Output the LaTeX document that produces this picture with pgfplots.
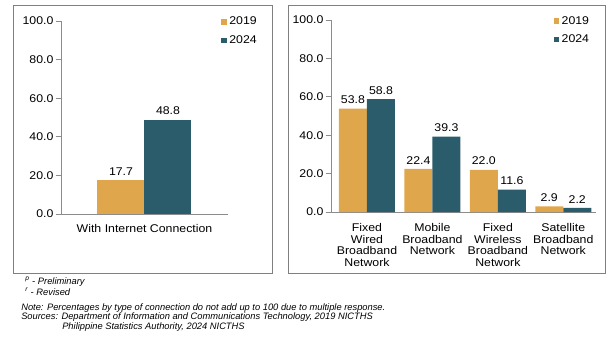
\documentclass[border=0pt]{standalone}
\usepackage{fontspec}
\setmainfont{Liberation Sans}[FakeStretch=1.1]
\newfontfamily\fnfont{Liberation Sans}
\usepackage{pgfplots}
\pgfplotsset{compat=1.18}
\definecolor{c19}{HTML}{E0A64C}
\definecolor{c24}{HTML}{2B5C6B}
\definecolor{frm}{HTML}{808080}
\definecolor{axl}{HTML}{8C8C8C}
\newcommand{\fs}{\fontsize{8.4pt}{8.8pt}\selectfont}
\newcommand{\fn}{\fnfont\fontsize{7pt}{8pt}\selectfont\itshape}
\pgfplotsset{
  /pgf/number format/.cd, fixed, fixed zerofill, precision=1, assume math mode=true,
  /pgfplots/.cd,
  common/.style={
    anchor=south west, scale only axis,
    ybar=0pt, ymin=0, ymax=100, ytick={0,20,...,100},
    axis x line*=bottom, axis y line*=left,
    axis line style={axl, line width=0.6pt},
    tick align=outside, major tick length=4pt,
    xtick style={draw=none}, ytick style={axl, line width=0.6pt},
    tick label style={font=\fs},
    yticklabel style={inner sep=1.5pt},
    nodes near coords, every node near coord/.append style={font=\fs, text=black},
    legend style={draw=none, fill=none, font=\fs, anchor=north east, row sep=2.5pt, inner sep=0pt},
    legend cell align=left,
    legend image code/.code={\fill[##1, draw=none] (0pt,-2pt) rectangle (4pt,2pt);},
  },
}
\begin{document}
\begin{tikzpicture}
\begin{scope}[x=0.75pt,y=-0.75pt]
\useasboundingbox (0,0) rectangle (615,339);
\draw[frm, line width=0.75pt] (13,5) rectangle (272,273);
\draw[frm, line width=0.75pt] (288,5) rectangle (605,273);
\node[anchor=west, inner sep=0pt, font=\fn] at (25,282) {\textsuperscript{p} - Preliminary};
\node[anchor=west, inner sep=0pt, font=\fn] at (25,292) {\textsuperscript{r} - Revised};
\node[anchor=west, inner sep=0pt, font=\fn] at (21,308) {Note: Percentages by type of connection do not add up to 100 due to multiple response.};
\node[anchor=west, inner sep=0pt, font=\fn] at (21,317) {Sources: Department of Information and Communications Technology, 2019 NICTHS};
\node[anchor=west, inner sep=0pt, font=\fn] at (62,327) {Philippine Statistics Authority, 2024 NICTHS};
\end{scope}

\begin{axis}[common,
  at={(45.75pt,-160.5pt)}, width=125.25pt, height=144.75pt,
  bar width=35.25pt, xmin=-1, xmax=1,
  xtick={0}, xticklabels={With Internet Connection},
  legend style={at={(1.19,1.035)}},
]
\addplot[fill=c19, draw=none] coordinates {(0,17.7)};
\addplot[fill=c24, draw=none] coordinates {(0,48.8)};
\legend{2019,2024}
\end{axis}

\begin{axis}[common,
  at={(248.25pt,-159pt)}, width=198.75pt, height=144pt,
  bar width=21pt, xmin=-0.55, xmax=3.5,
  xtick={0,1,2,3},
  xticklabels={{Fixed\\Wired\\Broadband\\Network},{Mobile\\Broadband\\Network},{Fixed\\Wireless\\Broadband\\Network},{Satellite\\Broadband\\Network}},
  xticklabel style={align=center, anchor=north, yshift=-1pt},
  legend style={at={(0.985,1.035)}},
]
\addplot[fill=c19, draw=none] coordinates {(0,53.8) (1,22.4) (2,22.0) (3,2.9)};
\addplot[fill=c24, draw=none] coordinates {(0,58.8) (1,39.3) (2,11.6) (3,2.2)};
\legend{2019,2024}
\end{axis}
\end{tikzpicture}
\end{document}
